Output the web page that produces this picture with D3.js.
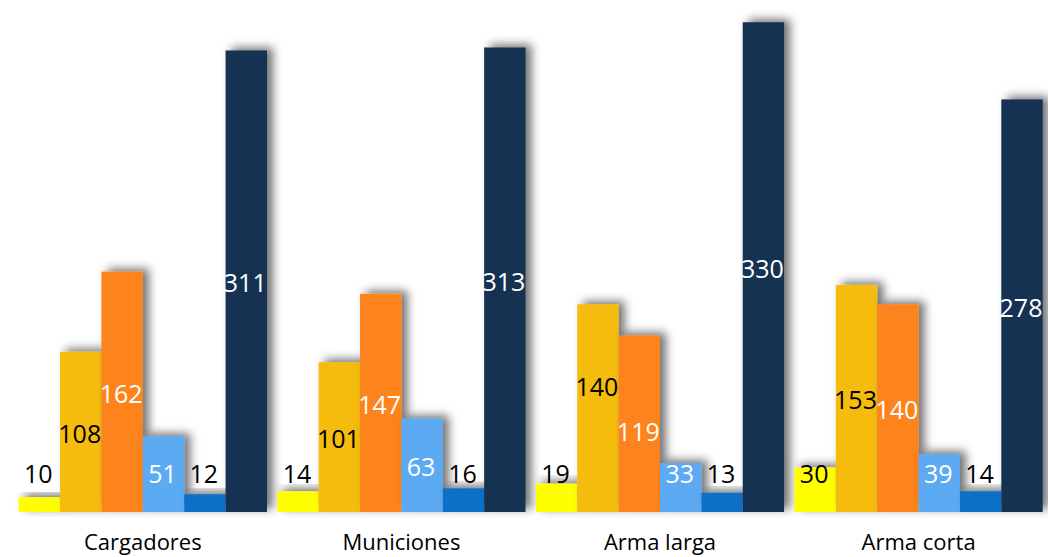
<!DOCTYPE html>
<html><head><meta charset="utf-8">
<script src="https://cdn.jsdelivr.net/npm/d3@7"></script>
<style>html,body{margin:0;padding:0;background:#fff;}svg{display:block;}</style>
</head><body>
<svg id="chart" width="1048" height="557"></svg>
<script>
const categories = ["Cargadores","Municiones","Arma larga","Arma corta"];
const seriesNames = ["s1","s2","s3","s4","s5","s6"];
const s1 = [10,14,19,30];
const s2 = [108,101,140,153];
const s3 = [162,147,119,140];
const s4 = [51,63,33,39];
const s5 = [12,16,13,14];
const s6 = [311,313,330,278];
const seriesValues = [s1,s2,s3,s4,s5,s6];
const colors = ["#FFFF00","#F5BC0F","#FD841F","#5BAAF2","#1170C8","#133052"];
const labelColors = ["#000","#000","#fff","#fff","#000","#fff"];

const svg = d3.select("#chart");
const baseY = 512;

const defs = svg.append("defs");
const f = defs.append("filter").attr("id","sh").attr("x","-30%").attr("y","-30%").attr("width","180%").attr("height","160%");
f.append("feDropShadow").attr("dx",6).attr("dy",-3).attr("stdDeviation",5)
 .attr("flood-color","#000").attr("flood-opacity",0.55);

const x0 = d3.scaleBand().domain(categories).range([18.7, 1042.7]).paddingInner(0.04).paddingOuter(0);
const x1 = d3.scaleBand().domain(seriesNames).range([0, x0.bandwidth()]).padding(0);
const y = d3.scaleLinear().domain([0, 345]).range([baseY, 0]);

const data = [];
categories.forEach((c, ci) => {
  seriesNames.forEach((s, si) => {
    data.push({cat: c, ser: s, si, v: seriesValues[si][ci]});
  });
});

const g = svg.append("g");
categories.forEach(c => {
  const gg = g.append("g").attr("transform", `translate(${x0(c)},0)`);
  gg.selectAll("rect").data(data.filter(d => d.cat === c)).join("rect")
    .attr("x", d => x1(d.ser))
    .attr("y", d => y(d.v))
    .attr("width", x1.bandwidth())
    .attr("height", d => baseY - y(d.v))
    .attr("fill", d => colors[d.si])
    .attr("filter", "url(#sh)");
});

// label positions: bar middle, kept above the baseline; separate overlapping neighbours
data.forEach(d => { d.ly = Math.min((y(d.v) + baseY)/2 + 2, baseY - 38); });
categories.forEach(c => {
  const grp = data.filter(d => d.cat === c);
  for (let i = 0; i < grp.length - 1; i++) {
    const a = grp[i], b = grp[i+1];
    const diff = b.ly - a.ly;
    if (Math.abs(diff) > 12 && Math.abs(diff) < 22) {
      const push = (45 - Math.abs(diff)) / 2;
      if (diff > 0) { a.ly -= push + 8; b.ly += push - 8; }
      else { a.ly += push - 8; b.ly -= push + 8; }
    }
  }
});

const lg = svg.append("g");
lg.selectAll("text").data(data).join("text")
  .attr("x", d => x0(d.cat) + x1(d.ser) + x1.bandwidth()/2 - 1)
  .attr("y", d => d.ly)
  .attr("dy", "0.36em")
  .attr("text-anchor", "middle")
  .attr("font-family", "'Open Sans', 'Noto Sans', sans-serif")
  .attr("font-size", 25)
  .attr("fill", d => labelColors[d.si])
  .text(d => d.v);

const xAxis = d3.axisBottom(x0).tickSize(0).tickPadding(0);
const ax = svg.append("g").attr("transform", `translate(0,${baseY})`).call(xAxis);
ax.select(".domain").remove();
ax.selectAll("text")
  .attr("y", 30)
  .attr("dy", "0.36em")
  .attr("font-family", "'Open Sans', 'Noto Sans', sans-serif")
  .attr("font-size", 22)
  .attr("fill", "#000");
</script>
</body></html>
